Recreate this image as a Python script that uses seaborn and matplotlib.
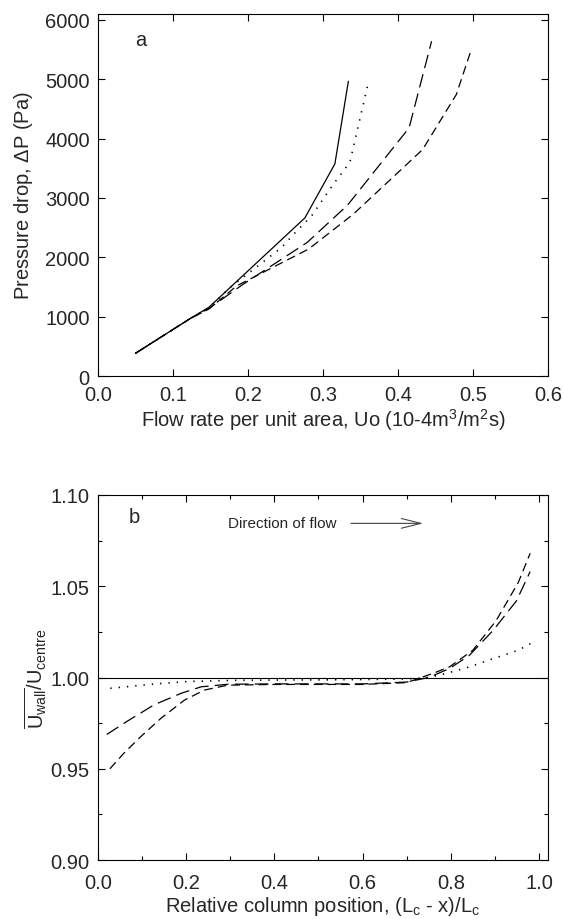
import numpy as np
import pandas as pd
import matplotlib
matplotlib.use("Agg")
import matplotlib.pyplot as plt
import seaborn as sns
from matplotlib.ticker import MultipleLocator, FormatStrFormatter

# ---- panel a: pressure drop vs flow rate ----
a_solid_x = [0.05, 0.123, 0.148, 0.276, 0.316, 0.334]
a_solid_y = [385, 970, 1160, 2664, 3573, 4963]
a_dot_x = [0.05, 0.123, 0.148, 0.176, 0.245, 0.261, 0.285, 0.314, 0.336, 0.361]
a_dot_y = [385, 970, 1150, 1490, 2166, 2390, 2698, 3232, 3597, 4963]
a_long_x = [0.05, 0.123, 0.148, 0.194, 0.279, 0.333, 0.415, 0.445]
a_long_y = [385, 970, 1140, 1550, 2250, 2880, 4180, 5637]
a_short_x = [0.05, 0.123, 0.148, 0.185, 0.281, 0.34, 0.433, 0.478, 0.498]
a_short_y = [385, 970, 1130, 1520, 2140, 2720, 3814, 4740, 5500]

# ---- panel b: wall / centre velocity ratio along column ----
b_dot_x = [0.028, 0.127, 0.203, 0.317, 0.4, 0.5, 0.6, 0.7, 0.75, 0.789, 0.842, 0.896, 0.953, 0.984]
b_dot_y = [0.9941, 0.9964, 0.9978, 0.9985, 0.9986, 0.9987, 0.9989, 0.9992, 1.000, 1.0022, 1.0058, 1.0103, 1.0149, 1.019]
b_long_x = [0.02, 0.066, 0.127, 0.188, 0.234, 0.294, 0.4, 0.5, 0.6, 0.7, 0.75, 0.797, 0.842, 0.896, 0.949, 0.98]
b_long_y = [0.9688, 0.976, 0.985, 0.9913, 0.9949, 0.9963, 0.9965, 0.9965, 0.9965, 0.9975, 1.000, 1.0049, 1.0121, 1.0258, 1.042, 1.058]
b_short_x = [0.027, 0.059, 0.097, 0.143, 0.196, 0.241, 0.294, 0.4, 0.5, 0.6, 0.7, 0.759, 0.797, 0.85, 0.903, 0.953, 0.98]
b_short_y = [0.950, 0.9586, 0.9676, 0.9777, 0.9876, 0.9931, 0.9958, 0.9962, 0.9962, 0.9962, 0.9972, 1.0022, 1.0058, 1.0149, 1.0312, 1.052, 1.068]

sns.set_style("ticks")
plt.rcParams['font.family'] = ['Liberation Sans', 'DejaVu Sans']
plt.rcParams['mathtext.fontset'] = 'custom'
plt.rcParams['mathtext.rm'] = 'Liberation Sans'
plt.rcParams['mathtext.it'] = 'Liberation Sans:italic'

FS = 14.5

fig = plt.figure(figsize=(5.63, 9.2), dpi=100)
ax1 = fig.add_axes([0.174, 0.590, 0.799, 0.394])
ax2 = fig.add_axes([0.174, 0.064, 0.799, 0.397])

styles = {
    "solid": "-",
    "dot": (0, (0.8, 4.2)),
    "long": (0, (11, 5)),
    "short": (0, (7, 4)),
}

for x, y, key in [(a_solid_x, a_solid_y, "solid"), (a_dot_x, a_dot_y, "dot"),
                  (a_long_x, a_long_y, "long"), (a_short_x, a_short_y, "short")]:
    sns.lineplot(x=x, y=y, ax=ax1, color="black", lw=1.2 if key == "dot" else 0.9,
                 linestyle=styles[key], sort=False, estimator=None)

ax1.set_xlim(0, 0.6)
ax1.set_ylim(0, 6100)
ax1.xaxis.set_major_locator(MultipleLocator(0.1))
ax1.yaxis.set_major_locator(MultipleLocator(1000))
ax1.xaxis.set_major_formatter(FormatStrFormatter("%.1f"))
ax1.set_xlabel("Flow rate per unit area, Uo (10-4m$^3$/m$^2$s)", fontsize=FS, labelpad=2)
ax1.set_ylabel("Pressure drop, $\\Delta$P (Pa)", fontsize=FS, labelpad=7)
ax1.text(0.082, 0.915, "a", transform=ax1.transAxes, fontsize=FS)

ax2.axhline(1.0, color="black", lw=0.8)
for x, y, key in [(b_dot_x, b_dot_y, "dot"), (b_long_x, b_long_y, "long"),
                  (b_short_x, b_short_y, "short")]:
    sns.lineplot(x=x, y=y, ax=ax2, color="black", lw=1.2 if key == "dot" else 0.9,
                 linestyle=styles[key], sort=False, estimator=None)

ax2.set_xlim(0, 1.02)
ax2.set_ylim(0.9, 1.1)
ax2.xaxis.set_major_locator(MultipleLocator(0.2))
ax2.xaxis.set_minor_locator(MultipleLocator(0.1))
ax2.yaxis.set_major_locator(MultipleLocator(0.05))
ax2.yaxis.set_minor_locator(MultipleLocator(0.025))
ax2.xaxis.set_major_formatter(FormatStrFormatter("%.1f"))
ax2.yaxis.set_major_formatter(FormatStrFormatter("%.2f"))
ax2.set_xlabel("Relative column position, (L$_\\mathrm{c}$ - x)/L$_\\mathrm{c}$", fontsize=FS, labelpad=2)
ax2.set_ylabel("$\\overline{\\mathrm{U}_{\\mathrm{wall}}}$/U$_{\\mathrm{centre}}$", fontsize=FS, labelpad=1)
ax2.text(0.068, 0.925, "b", transform=ax2.transAxes, fontsize=FS)
ax2.text(0.289, 0.922, "Direction of flow", transform=ax2.transAxes, fontsize=11,
         va="center")
ax2.annotate("", xy=(0.729, 0.922), xytext=(0.556, 0.922), xycoords="axes fraction",
             arrowprops=dict(arrowstyle="->,head_length=1.4,head_width=0.35",
                             color="#444444", lw=0.8))

for ax in (ax1, ax2):
    ax.tick_params(which="both", direction="in", top=True, right=True,
                   labelsize=FS, width=0.8, color="black", pad=6)
    ax.tick_params(which="major", length=5)
    ax.tick_params(which="minor", length=3)
    for s in ax.spines.values():
        s.set_linewidth(0.8)
        s.set_color("black")
ax2.tick_params(axis="x", which="both", pad=9)

fig.savefig("out.png", dpi=100)
